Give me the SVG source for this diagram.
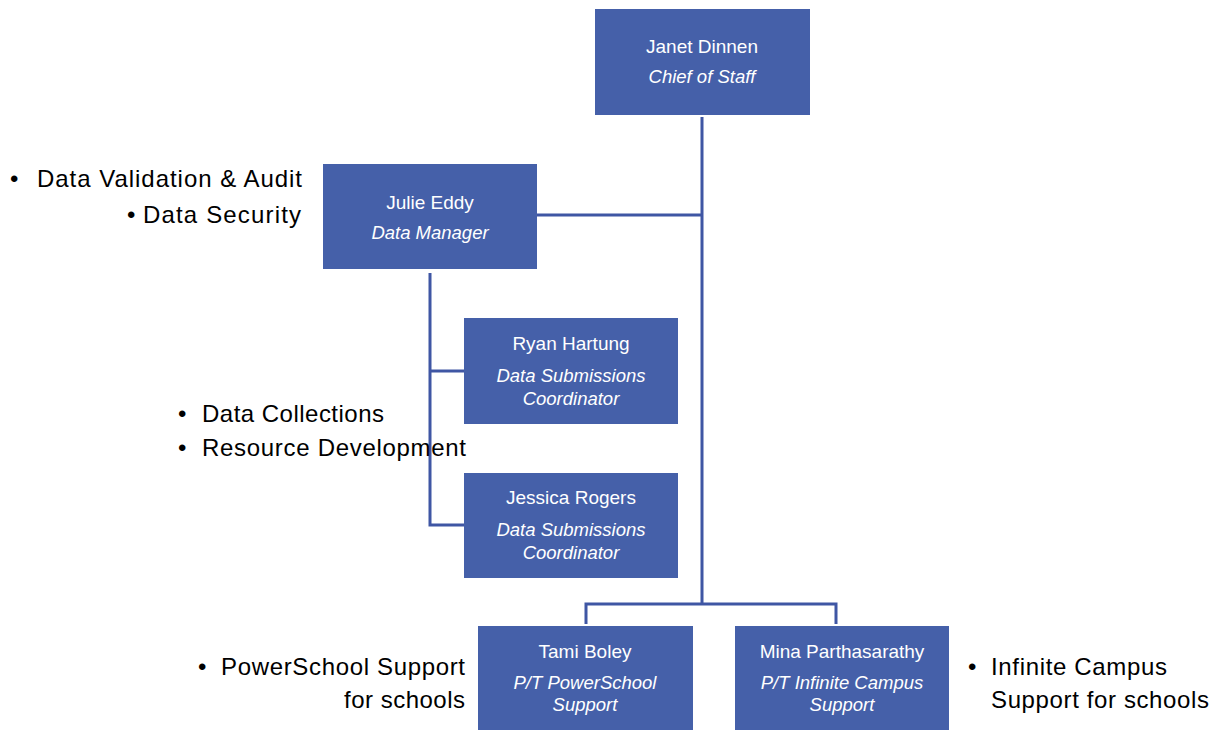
<svg xmlns="http://www.w3.org/2000/svg" width="1214" height="730" viewBox="0 0 1214 730">
  <style>
    .box { fill: #4560A9; }
    .name { font-family: "Liberation Sans", Arial, sans-serif; font-size: 19px; fill: #ffffff; text-anchor: middle; }
    .role { font-family: "Liberation Sans", Arial, sans-serif; font-size: 18.5px; fill: #ffffff; text-anchor: middle; font-style: italic; }
    .note { font-family: "Liberation Sans", Arial, sans-serif; font-size: 24px; fill: #000000; }
    .wire { fill: none; stroke: #3F56A4; stroke-width: 3; }
  </style>
  <rect width="1214" height="730" fill="#ffffff"/>

  <!-- reporting lines -->
  <g id="connectors">
    <path class="wire" d="M702 117 V604"/>
    <path class="wire" d="M537 215 H702"/>
    <path class="wire" d="M430 273 V525 H464 M430 371 H464"/>
    <path class="wire" d="M586 624 V604 H836 V624"/>
  </g>

  <g id="janet">
    <rect class="box" x="595" y="9" width="215" height="106"/>
    <text class="name" x="702" y="53">Janet Dinnen</text>
    <text class="role" x="702" y="83">Chief of Staff</text>
  </g>

  <g id="julie">
    <rect class="box" x="323" y="164" width="214" height="105"/>
    <text class="name" x="430" y="209">Julie Eddy</text>
    <text class="role" x="430" y="239">Data Manager</text>
  </g>

  <g id="ryan">
    <rect class="box" x="464" y="318" width="214" height="106"/>
    <text class="name" x="571" y="350">Ryan Hartung</text>
    <text class="role" x="571" y="382">Data Submissions</text>
    <text class="role" x="571" y="405">Coordinator</text>
  </g>

  <g id="jessica">
    <rect class="box" x="464" y="473" width="214" height="105"/>
    <text class="name" x="571" y="504">Jessica Rogers</text>
    <text class="role" x="571" y="536">Data Submissions</text>
    <text class="role" x="571" y="559">Coordinator</text>
  </g>

  <g id="tami">
    <rect class="box" x="478" y="626" width="215" height="104"/>
    <text class="name" x="585" y="658">Tami Boley</text>
    <text class="role" x="585" y="689">P/T PowerSchool</text>
    <text class="role" x="585" y="711">Support</text>
  </g>

  <g id="mina">
    <rect class="box" x="735" y="626" width="214" height="104"/>
    <text class="name" x="842" y="658">Mina Parthasarathy</text>
    <text class="role" x="842" y="689">P/T Infinite Campus</text>
    <text class="role" x="842" y="711">Support</text>
  </g>

  <!-- responsibility notes -->
  <g id="notes">
    <text class="note" x="10" y="187">•</text>
    <text class="note" x="37" y="187" textLength="265">Data Validation &amp; Audit</text>
    <text class="note" x="127" y="223">•</text>
    <text class="note" x="143" y="223" textLength="158">Data Security</text>
    <text class="note" x="178" y="422">•</text>
    <text class="note" x="202" y="422" textLength="182">Data Collections</text>
    <text class="note" x="178" y="456">•</text>
    <text class="note" x="202" y="456" textLength="264">Resource Development</text>
    <text class="note" x="198" y="675">•</text>
    <text class="note" x="221" y="675" textLength="244">PowerSchool Support</text>
    <text class="note" x="344" y="708" textLength="121">for schools</text>
    <text class="note" x="968" y="675">•</text>
    <text class="note" x="991" y="675" textLength="176">Infinite Campus</text>
    <text class="note" x="991" y="708" textLength="218">Support for schools</text>
  </g>
</svg>
